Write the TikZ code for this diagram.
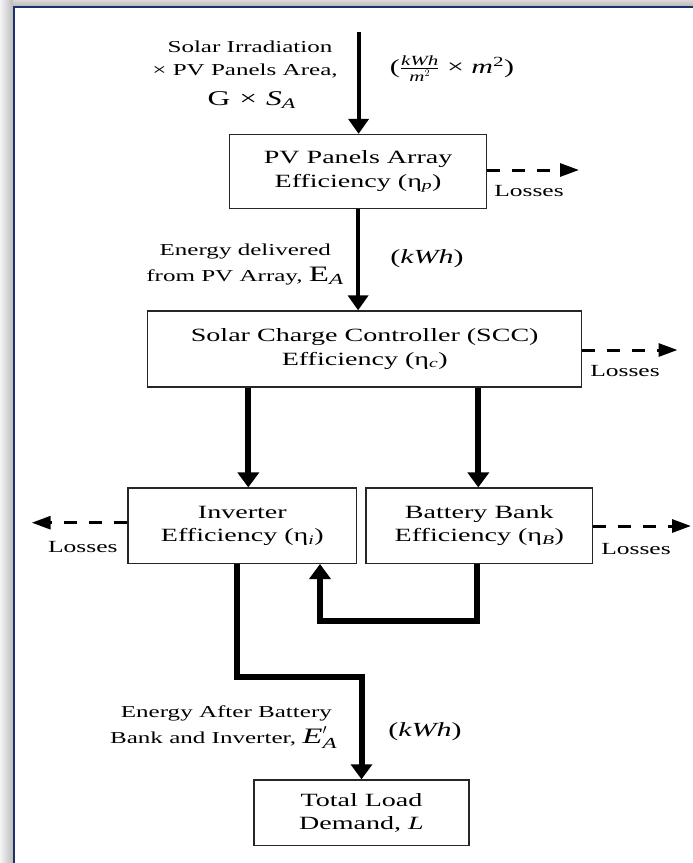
\documentclass[tikz,border=0pt]{standalone}
\usepackage{amsmath}
\usepackage{fontspec}
\setmainfont{Liberation Serif}[FakeStretch=1.5]
\usetikzlibrary{arrows.meta,calc}
\definecolor{frameblue}{RGB}{28,50,108}
\begin{document}
\begin{tikzpicture}[x=1pt,y=-1pt,
  box/.style={draw=black!85, line width=1.3pt, align=center, inner sep=0pt,
    font=\fontsize{18.7}{23.5}\selectfont},
  lbl/.style={anchor=base, inner sep=0pt, font=\fontsize{16.7}{20}\selectfont},
  losslbl/.style={anchor=base, inner sep=0pt, font=\fontsize{17}{20}\selectfont},
  unit/.style={inner sep=0pt, font=\fontsize{20}{24}\selectfont},
  flow/.style={line width=4pt, -{Triangle[width=20pt,length=15pt]}},
  heavy/.style={line width=6pt, -{Triangle[width=21pt,length=15pt]}},
  lossarrow/.style={line width=3pt, dash pattern=on 13pt off 12pt,
    -{Triangle[width=13pt,length=19pt]}},
]
\useasboundingbox (0,0) rectangle (693,863);
% frame with shadow
\shade[left color=gray!8, right color=gray!55] (0,0) rectangle (13.5,863);
\shade[top color=gray!30, bottom color=gray!55] (13.5,0) rectangle (693,6);
\draw[frameblue, line width=2pt] (693,7) -- (14.3,7) -- (14.3,863);

% boxes
\node[box, minimum width=257pt, minimum height=74pt] (pv) at (358.1,171.5)
  {PV Panels Array\\Efficiency (η\textsubscript{\itshape p})};
\node[box, minimum width=434pt, minimum height=76pt] (scc) at (364.7,349)
  {Solar Charge Controller (SCC)\\Efficiency (η\textsubscript{\itshape c})};
\node[box, minimum width=228.7pt, minimum height=75.3pt] (inv) at (242.3,525.7)
  {Inverter\\Efficiency (η\textsubscript{\itshape i})};
\node[box, minimum width=226.7pt, minimum height=75.3pt] (bat) at (479.3,525.7)
  {Battery Bank\\Efficiency (η\textsubscript{\itshape B})};
\node[box, minimum width=215pt, minimum height=65.5pt] (load) at (361.5,812.7)
  {Total Load\\Demand, \textit{L}};

% helper coordinates
\coordinate (src) at (358.6,32);
\coordinate (c1) at (248.3,0);
\coordinate (c2) at (478.3,0);
\coordinate (c3) at (477.3,0);
\coordinate (b1) at (236.7,677);
\coordinate (b2) at (320,621);
\coordinate (l1) at (579,170);
\coordinate (l2) at (677.5,350);
\coordinate (l3) at (691,526);
\coordinate (l4) at (31.7,522.7);

% main flow
\draw[flow] (src) -- (src |- pv.north);
\draw[flow] (pv.south) -- (pv.south |- scc.north);
\draw[heavy] (c1 |- scc.south) -- (c1 |- inv.north);
\draw[heavy] (c2 |- scc.south) -- (c2 |- bat.north);
\draw[heavy] (b1 |- inv.south) -- (b1) -| (load.north);
\draw[heavy] (c3 |- bat.south) |- (b2) -- (b2 |- inv.south);

% losses
\draw[lossarrow] (l1 -| pv.east) -- (l1);
\draw[lossarrow] (l2 -| scc.east) -- (l2);
\draw[lossarrow] (l3 -| bat.east) -- (l3);
\draw[lossarrow] (l4 -| inv.west) -- (l4);
\node[losslbl] (lossA) at (529,196.7) {Losses};
\node[losslbl] (lossB) at (625,376) {Losses};
\node[losslbl] (lossC) at (636,554) {Losses};
\node[losslbl] (lossD) at (82.8,552.3) {Losses};

% labels
\node[lbl] (t1) at (250,52.3) {Solar Irradiation};
\node[lbl] (t2) at (245,75) {× PV Panels Area,};
\node[lbl, font=\fontsize{21}{24}\selectfont] (t3) at (251.7,105)
  {G\hspace{9pt}×\hspace{9pt}$\textit{S}_{\textit{A}}$};
\node[unit] (t4) at (452,68.5)
  {($\frac{\textit{kWh}}{\textit{m}^{2}}$ × \textit{m}\textsuperscript{2})};
\node[lbl] (t5) at (245.3,255) {Energy delivered};
\node[lbl] (t6) at (245,281.7)
  {from PV Array, {\fontsize{22}{24}\selectfont$\textup{E}_{\textit{A}}$}};
\node[unit] (t7) at (427,259) {(\textit{kWh})};
\node[lbl] (t8) at (226.4,717.3) {Energy After Battery};
\node[lbl] (t9) at (223.7,743.3)
  {Bank and Inverter, {\fontsize{22}{24}\selectfont$\textit{E}'_{\textit{A}}$}};
\node[unit] (t10) at (425,731.7) {(\textit{kWh})};
\end{tikzpicture}
\end{document}
